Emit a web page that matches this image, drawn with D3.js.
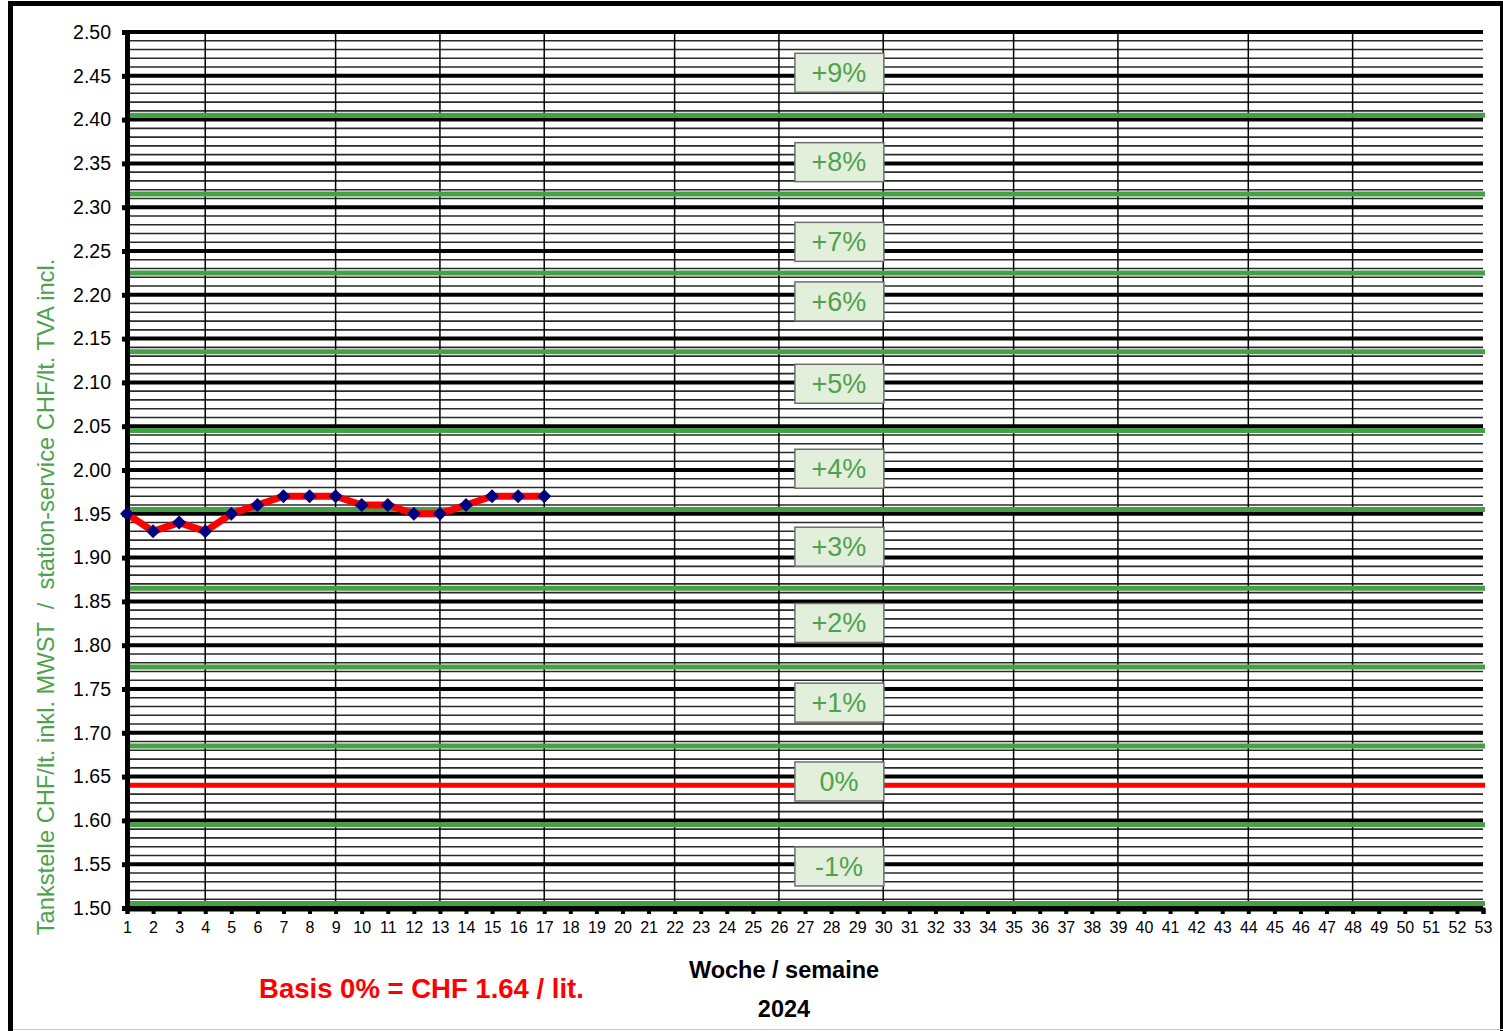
<!DOCTYPE html>
<html>
<head>
<meta charset="utf-8">
<script src="https://cdn.jsdelivr.net/npm/d3@7"></script>
<style>
  html, body { margin: 0; padding: 0; background: #fff; }
  svg { display: block; font-family: "Liberation Sans", Arial, sans-serif; }
</style>
</head>
<body>
<svg id="chart" width="1503" height="1031"></svg>
<script>
// ---- data ----
const weeks = d3.range(1, 54);
const priceWeeks = [1,2,3,4,5,6,7,8,9,10,11,12,13,14,15,16,17];
const prices = [1.95,1.93,1.94,1.93,1.95,1.96,1.97,1.97,1.97,1.96,1.96,1.95,1.95,1.96,1.97,1.97,1.97];
const yMajorTicks = [1.50,1.55,1.60,1.65,1.70,1.75,1.80,1.85,1.90,1.95,2.00,2.05,2.10,2.15,2.20,2.25,2.30,2.35,2.40,2.45,2.50];
const monthWeeks = [4,9,13,17,22,26,30,35,39,44,48];
const basePrice = 1.64;
const bandLimits = [1.505,1.595,1.685,1.775,1.865,1.955,2.045,2.135,2.225,2.315,2.405];
const bandLabels = ["+9%","+8%","+7%","+6%","+5%","+4%","+3%","+2%","+1%","0%","-1%"];
const bandLabelValues = [2.454,2.352,2.261,2.193,2.099,2.002,1.913,1.826,1.735,1.645,1.548];
const bandLabelWeek = 28.3;

const svg = d3.select("#chart");
const W = 1503, H = 1031;
const x = d3.scaleLinear().domain([1, 53]).range([127, 1483]);
const y = d3.scaleLinear().domain([1.5, 2.5]).range([908, 32]);

// outer frame
svg.append("rect").attr("x", 10.5).attr("y", 3.5).attr("width", 1492).attr("height", 1040)
  .attr("fill", "none").attr("stroke", "#000").attr("stroke-width", 5);
svg.append("line").attr("x1", 13).attr("x2", W).attr("y1", 1029.5).attr("y2", 1029.5)
  .attr("stroke", "#c8c8c8").attr("stroke-width", 1);

const g = svg.append("g");

// minor horizontal grid every 0.01
const minor = d3.range(0, 101).map(i => 1.5 + i * 0.01).filter((v, i) => i % 5 !== 0);
g.selectAll(".minor").data(minor).join("line")
  .attr("x1", x(1)).attr("x2", x(53))
  .attr("y1", d => y(d)).attr("y2", d => y(d))
  .attr("stroke", "#2a2a2a").attr("stroke-width", 1.6);

// vertical month lines
g.selectAll(".vline").data(monthWeeks).join("line")
  .attr("x1", d => x(d)).attr("x2", d => x(d))
  .attr("y1", y(2.5)).attr("y2", y(1.5))
  .attr("stroke", "#000").attr("stroke-width", 1.5);

// major horizontal lines
g.selectAll(".major").data(yMajorTicks).join("line")
  .attr("x1", x(1)).attr("x2", x(53))
  .attr("y1", d => y(d)).attr("y2", d => y(d))
  .attr("stroke", "#000").attr("stroke-width", 4);

// green band limits
g.selectAll(".band").data(bandLimits).join("line")
  .attr("x1", x(1)).attr("x2", x(53) + 2)
  .attr("y1", d => y(d)).attr("y2", d => y(d))
  .attr("stroke", "#46a046").attr("stroke-width", 5);

// base red line
g.append("line").attr("x1", x(1)).attr("x2", x(53) + 2)
  .attr("y1", y(basePrice)).attr("y2", y(basePrice))
  .attr("stroke", "#ff0000").attr("stroke-width", 5);

// band labels
const lab = g.selectAll(".lab").data(bandLabels).join("g")
  .attr("transform", (d, i) => `translate(${x(bandLabelWeek)},${y(bandLabelValues[i])})`);
lab.append("rect").attr("x", -44).attr("y", -19).attr("width", 89).attr("height", 39)
  .attr("fill", "#e2efda").attr("stroke", "#6f6f6f").attr("stroke-width", 1.5);
lab.append("text").attr("text-anchor", "middle").attr("dy", "0.36em")
  .attr("font-size", 27).attr("fill", "#4ea24e").text(d => d);

// axes
const yAxis = d3.axisLeft(y).tickValues(yMajorTicks).tickFormat(d3.format(".2f")).tickSize(5).tickPadding(11);
const ya = svg.append("g").attr("transform", `translate(${x(1)},0)`).call(yAxis);
ya.select(".domain").attr("stroke", "#000").attr("stroke-width", 5);
ya.selectAll(".tick line").attr("stroke", "#000").attr("stroke-width", 5);
ya.selectAll(".tick text").attr("font-size", 19.5).attr("fill", "#000")
  .attr("font-family", "Liberation Sans, Arial, sans-serif");

const xAxis = d3.axisBottom(x).tickValues(weeks).tickFormat(d3.format("d")).tickSize(5).tickPadding(8);
const xa = svg.append("g").attr("transform", `translate(0,${y(1.5) + 1})`).call(xAxis);
xa.select(".domain").attr("stroke", "#000").attr("stroke-width", 4);
xa.selectAll(".tick line").attr("stroke", "#000").attr("stroke-width", 4);
xa.selectAll(".tick text").attr("font-size", 16).attr("fill", "#000")
  .attr("font-family", "Liberation Sans, Arial, sans-serif");

// data line
const pts = priceWeeks.map((w, i) => [w, prices[i]]);
g.append("path").datum(pts)
  .attr("fill", "none").attr("stroke", "#ff0000").attr("stroke-width", 7)
  .attr("stroke-linejoin", "round")
  .attr("d", d3.line().x(d => x(d[0])).y(d => y(d[1])));
const s = 7;
svg.append("g").selectAll("path").data(pts).join("path")
  .attr("d", d => `M${x(d[0])},${y(d[1]) - s}L${x(d[0]) + s},${y(d[1])}L${x(d[0])},${y(d[1]) + s}L${x(d[0]) - s},${y(d[1])}Z`)
  .attr("fill", "#000080");

// titles
svg.append("text").attr("transform", `translate(54,597) rotate(-90)`)
  .attr("text-anchor", "middle").attr("font-size", 23.7).attr("fill", "#4ea24e")
  .attr("xml:space", "preserve")
  .text("Tankstelle CHF/lt. inkl. MWST  /  station-service CHF/lt. TVA incl.");
svg.append("text").attr("x", 784).attr("y", 978).attr("text-anchor", "middle")
  .attr("font-size", 23.5).attr("font-weight", "bold").attr("fill", "#000").text("Woche / semaine");
svg.append("text").attr("x", 784).attr("y", 1017).attr("text-anchor", "middle")
  .attr("font-size", 23.5).attr("font-weight", "bold").attr("fill", "#000").text("2024");
svg.append("text").attr("x", 421.5).attr("y", 998).attr("text-anchor", "middle")
  .attr("font-size", 27.5).attr("font-weight", "bold").attr("fill", "#ff0000").text("Basis 0% = CHF 1.64 / lit.");
</script>
</body>
</html>
